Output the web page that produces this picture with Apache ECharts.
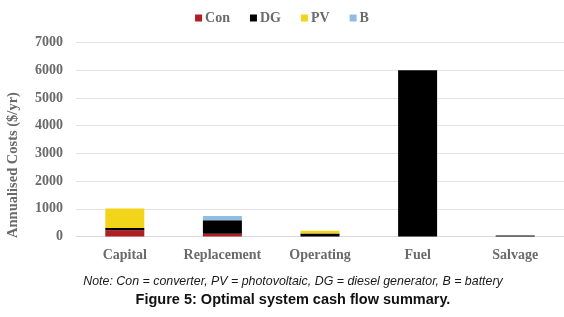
<!DOCTYPE html>
<html>
<head>
<meta charset="utf-8">
<script src="https://cdn.jsdelivr.net/npm/echarts@6/dist/echarts.min.js"></script>
<style>
  html, body { margin: 0; padding: 0; background: #fff; }
  #chart { width: 564px; height: 317px; }
</style>
</head>
<body>
<div id="chart"></div>
<script>
// cost categories and stacked components ($/yr)
const categories = ['Capital', 'Replacement', 'Operating', 'Fuel', 'Salvage'];
const conValues = [230, 100, 0, 0, 0];
const dgValues = [80, 490, 110, 6000, 40];
const pvValues = [700, 0, 95, 0, 0];
const bValues = [0, 150, 0, 0, 0];
const yTicks = { min: 0, max: 7000, interval: 1000 };

const serif = '"Liberation Serif", "Times New Roman", serif';
const gray = '#6a6a6a';

let chart = echarts.init(document.getElementById('chart'));

function stack(name, data, color) {
    return {
        name: name,
        type: 'bar',
        stack: 'cost',
        barWidth: 39,
        data: data,
        itemStyle: { color: color },
        emphasis: { disabled: true }
    };
}

chart.setOption({
    animation: false,
    legend: {
        top: 6,
        left: 'center',
        itemWidth: 7,
        itemHeight: 7,
        itemGap: 20,
        icon: 'rect',
        textStyle: { fontFamily: serif, fontWeight: 'bold', fontSize: 14, color: gray, padding: [0, 0, 0, -2] },
        data: ['Con', 'DG', 'PV', 'B']
    },
    grid: { left: 76, right: 0, top: 42.5, bottom: 80.5 },
    xAxis: {
        type: 'category',
        data: categories,
        axisLine: { lineStyle: { color: '#d9d9d9', width: 1 } },
        axisTick: { show: false },
        axisLabel: { interval: 0, fontFamily: serif, fontWeight: 'bold', fontSize: 14, color: gray, margin: 12 }
    },
    yAxis: {
        type: 'value',
        min: yTicks.min,
        max: yTicks.max,
        interval: yTicks.interval,
        axisLine: { show: false },
        axisTick: { show: false },
        splitLine: { lineStyle: { color: '#e3e3e3' } },
        axisLabel: {
            formatter: function (v) { return String(v); },
            fontFamily: serif, fontWeight: 'bold', fontSize: 14, color: gray, margin: 13
        }
    },
    graphic: [
        {
            type: 'text',
            x: 13, y: 165,
            rotation: Math.PI / 2,
            style: {
                text: 'Annualised Costs ($/yr)',
                font: 'bold 14.5px ' + serif,
                fill: gray,
                align: 'center',
                verticalAlign: 'middle'
            }
        },
        {
            type: 'text',
            x: 293, y: 282,
            style: {
                text: 'Note: Con = converter, PV = photovoltaic, DG = diesel generator, B = battery',
                font: 'italic 12.4px "Liberation Sans", Arial, sans-serif',
                fill: '#1a1a1a',
                align: 'center',
                verticalAlign: 'middle'
            }
        },
        {
            type: 'text',
            x: 293, y: 300,
            style: {
                text: 'Figure 5: Optimal system cash flow summary.',
                font: 'bold 14.5px "Liberation Sans", Arial, sans-serif',
                fill: '#111',
                align: 'center',
                verticalAlign: 'middle'
            }
        }
    ],
    series: [
        stack('Con', conValues, '#b01e23'),
        stack('DG', dgValues, '#000000'),
        stack('PV', pvValues, '#f2d51a'),
        stack('B', bValues, '#8fbde3')
    ]
});
window.addEventListener('resize', function () {
    chart.resize();
});
</script>
</body>
</html>
